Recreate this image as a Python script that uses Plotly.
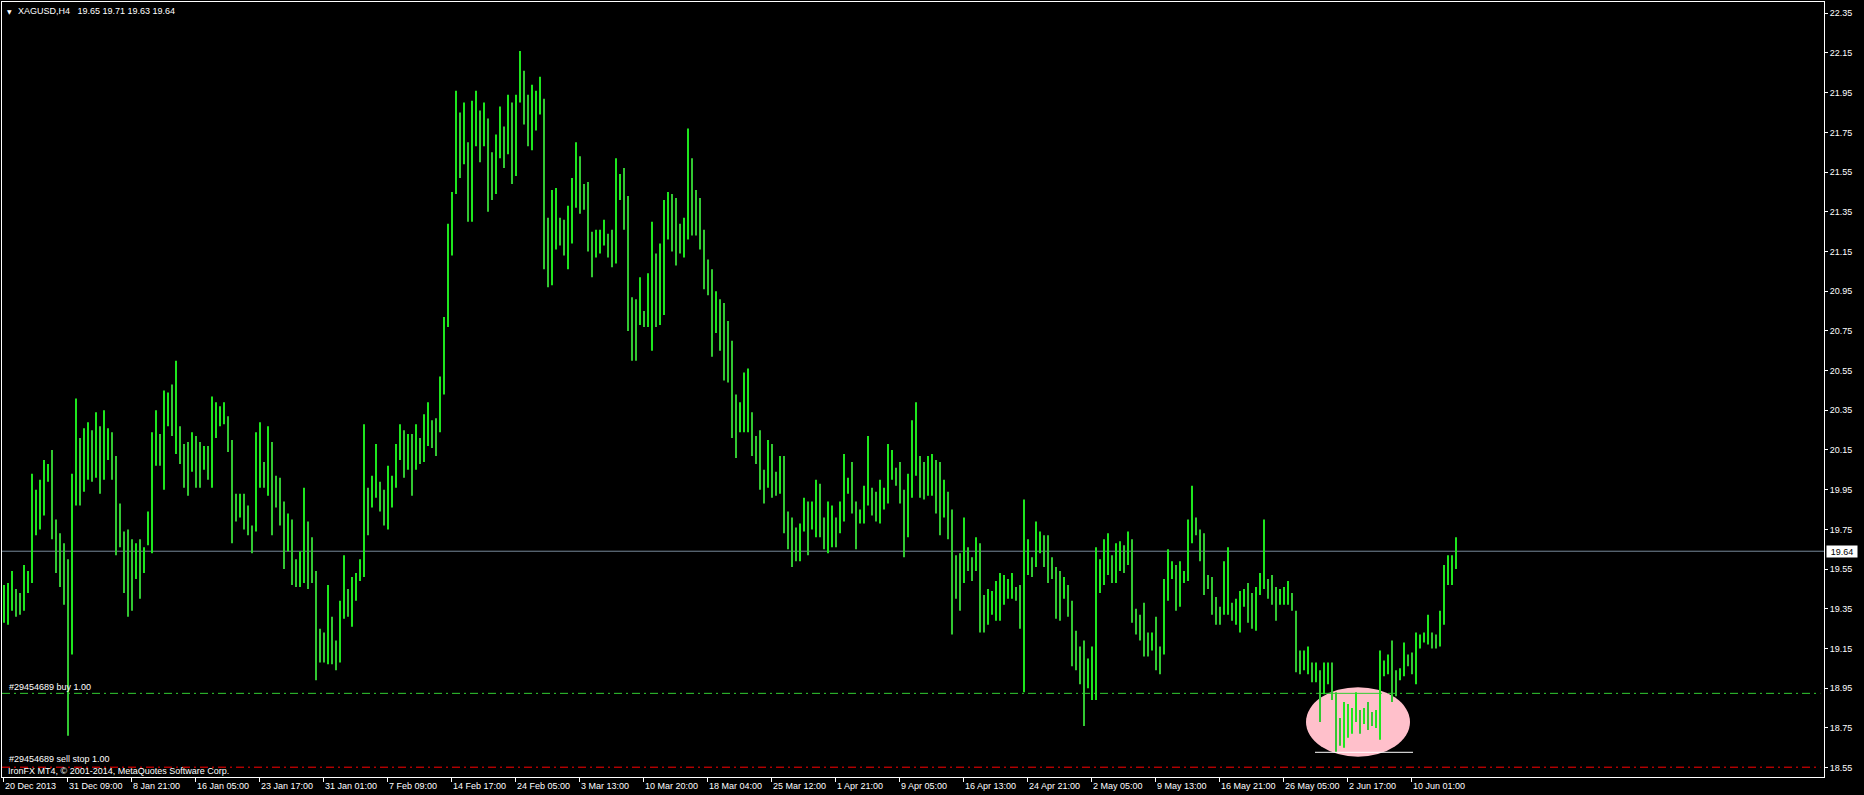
import plotly.graph_objects as go

# ---- data (XAGUSD H4, bars aggregated in pairs) ----
high = [
    19.47, 19.48, 19.54, 19.45, 19.43, 19.57, 19.54, 20.03, 19.95, 20.00,
    20.10, 20.08, 20.15, 19.80, 19.73, 19.68, 19.60, 20.03, 20.41, 20.21,
    20.26, 20.29, 20.25, 20.34, 20.27, 20.35, 20.26, 20.24, 20.12, 19.88,
    19.74, 19.75, 19.70, 19.68, 19.70, 19.66, 19.84, 20.24, 20.35, 20.23,
    20.45, 20.44, 20.48, 20.60, 20.27, 20.18, 20.19, 20.24, 20.22, 20.19,
    20.17, 20.17, 20.42, 20.39, 20.37, 20.39, 20.32, 20.20, 19.93, 19.93,
    19.93, 19.87, 19.77, 20.24, 20.29, 20.09, 20.27, 20.19, 20.02, 20.01,
    19.89, 19.83, 19.80, 19.60, 19.64, 19.96, 19.79, 19.71, 19.54, 19.25,
    19.23, 19.47, 19.31, 19.19, 19.39, 19.62, 19.45, 19.51, 19.53, 19.60,
    20.28, 19.96, 20.02, 20.18, 19.99, 19.95, 20.07, 20.02, 20.18, 20.28,
    20.25, 20.23, 20.23, 20.28, 20.21, 20.33, 20.39, 20.30, 20.31, 20.52,
    20.82, 21.29, 21.45, 21.96, 21.85, 21.90, 21.70, 21.91, 21.96, 21.86,
    21.90, 21.82, 21.65, 21.74, 21.88, 21.78, 21.94, 21.90, 21.94, 22.16,
    22.06, 21.94, 21.99, 21.96, 22.03, 21.92, 21.32, 21.46, 21.47, 21.32,
    21.31, 21.38, 21.52, 21.70, 21.63, 21.49, 21.50, 21.25, 21.26, 21.26,
    21.31, 21.24, 21.26, 21.62, 21.54, 21.57, 21.43, 20.92, 20.91, 21.02,
    20.85, 21.04, 21.30, 21.14, 21.19, 21.41, 21.45, 21.44, 21.42, 21.29,
    21.32, 21.77, 21.62, 21.46, 21.42, 21.26, 21.11, 21.06, 20.95, 20.91,
    20.89, 20.80, 20.70, 20.43, 20.39, 20.54, 20.56, 20.34, 20.22, 20.25,
    20.05, 20.20, 20.18, 20.04, 20.12, 20.12, 19.84, 19.81, 19.76, 19.78,
    19.91, 19.89, 19.89, 20.00, 19.98, 19.81, 19.89, 19.87, 19.81, 19.89,
    20.13, 20.01, 20.09, 19.89, 19.85, 19.97, 20.22, 19.96, 19.94, 20.00,
    19.96, 20.18, 20.15, 20.06, 20.09, 19.95, 20.03, 20.30, 20.39, 20.12,
    20.09, 20.12, 20.13, 20.10, 20.09, 20.00, 19.94, 19.85, 19.62, 19.63,
    19.81, 19.66, 19.61, 19.71, 19.68, 19.42, 19.45, 19.44, 19.49, 19.53,
    19.52, 19.50, 19.53, 19.46, 19.47, 19.90, 19.70, 19.61, 19.79, 19.74,
    19.72, 19.72, 19.61, 19.56, 19.54, 19.51, 19.47, 19.39, 19.24, 19.16,
    19.19, 19.10, 19.16, 19.66, 19.60, 19.70, 19.73, 19.62, 19.68, 19.69,
    19.67, 19.74, 19.70, 19.35, 19.32, 19.38, 19.23, 19.23, 19.31, 19.16,
    19.50, 19.65, 19.59, 19.57, 19.59, 19.54, 19.80, 19.97, 19.81, 19.75,
    19.73, 19.52, 19.51, 19.41, 19.36, 19.59, 19.66, 19.38, 19.40, 19.44,
    19.45, 19.48, 19.43, 19.46, 19.53, 19.80, 19.50, 19.52, 19.46, 19.45,
    19.46, 19.49, 19.43, 19.34, 19.14, 19.14, 19.16, 19.08, 19.08, 19.04,
    19.08, 19.08, 19.08, 18.93, 18.80, 18.88, 18.87, 18.85, 18.93, 18.84,
    18.85, 18.88, 18.83, 18.84, 19.14, 19.09, 19.12, 19.19, 19.04, 19.05,
    19.18, 19.12, 19.13, 19.23, 19.22, 19.23, 19.32, 19.23, 19.22, 19.34,
    19.57, 19.62, 19.62, 19.71,
]
low = [
    19.28, 19.27, 19.34, 19.31, 19.32, 19.34, 19.43, 19.48, 19.72, 19.75,
    19.82, 19.99, 19.70, 19.53, 19.46, 19.37, 18.71, 19.12, 19.87, 19.87,
    19.94, 20.00, 19.99, 20.01, 19.93, 20.00, 20.10, 20.00, 19.62, 19.66,
    19.43, 19.31, 19.34, 19.50, 19.40, 19.53, 19.67, 19.63, 20.07, 20.07,
    19.95, 20.27, 20.22, 20.13, 20.08, 19.96, 19.92, 20.04, 19.96, 19.96,
    20.05, 20.00, 19.96, 20.21, 20.27, 20.28, 20.14, 19.68, 19.79, 19.81,
    19.75, 19.72, 19.63, 19.74, 19.96, 19.96, 19.92, 19.72, 19.86, 19.77,
    19.55, 19.64, 19.47, 19.46, 19.46, 19.48, 19.45, 19.48, 18.99, 19.08,
    19.08, 19.07, 19.07, 19.04, 19.08, 19.30, 19.31, 19.26, 19.39, 19.49,
    19.51, 19.72, 19.86, 19.91, 19.84, 19.77, 19.75, 19.86, 19.96, 20.10,
    20.01, 20.05, 19.92, 20.05, 20.08, 20.09, 20.17, 20.16, 20.12, 20.24,
    20.43, 20.77, 21.13, 21.44, 21.52, 21.59, 21.30, 21.30, 21.68, 21.60,
    21.68, 21.35, 21.41, 21.44, 21.62, 21.57, 21.64, 21.49, 21.53, 21.90,
    21.79, 21.68, 21.66, 21.76, 21.84, 21.06, 20.97, 20.98, 21.16, 21.18,
    21.13, 21.06, 21.19, 21.37, 21.34, 21.36, 21.15, 21.02, 21.12, 21.14,
    21.18, 21.12, 21.07, 21.09, 21.41, 21.26, 20.75, 20.60, 20.60, 20.78,
    20.77, 20.77, 20.65, 20.77, 20.78, 20.83, 21.21, 21.15, 21.08, 21.14,
    21.12, 21.21, 21.23, 21.23, 21.16, 20.96, 20.93, 20.62, 20.74, 20.65,
    20.50, 20.49, 20.21, 20.11, 20.24, 20.24, 20.24, 20.12, 20.08, 19.95,
    19.88, 19.96, 19.91, 19.92, 19.93, 19.73, 19.65, 19.56, 19.59, 19.59,
    19.74, 19.62, 19.75, 19.71, 19.71, 19.65, 19.63, 19.66, 19.66, 19.73,
    19.79, 19.93, 19.83, 19.65, 19.78, 19.78, 19.87, 19.82, 19.79, 19.78,
    19.85, 19.88, 20.00, 19.97, 19.88, 19.61, 19.71, 19.91, 20.02, 19.91,
    19.90, 19.92, 19.92, 19.83, 19.72, 19.81, 19.70, 19.22, 19.40, 19.34,
    19.48, 19.54, 19.49, 19.54, 19.23, 19.23, 19.27, 19.32, 19.29, 19.29,
    19.37, 19.40, 19.40, 19.39, 19.25, 18.93, 19.52, 19.51, 19.56, 19.63,
    19.56, 19.48, 19.50, 19.30, 19.29, 19.40, 19.31, 19.06, 19.04, 18.97,
    18.76, 18.95, 18.89, 18.89, 19.43, 19.47, 19.52, 19.48, 19.48, 19.54,
    19.53, 19.57, 19.28, 19.22, 19.19, 19.11, 19.11, 19.14, 19.04, 19.02,
    19.12, 19.39, 19.50, 19.34, 19.36, 19.48, 19.49, 19.68, 19.72, 19.59,
    19.42, 19.45, 19.32, 19.27, 19.27, 19.32, 19.32, 19.29, 19.27, 19.23,
    19.36, 19.28, 19.25, 19.24, 19.42, 19.45, 19.40, 19.37, 19.29, 19.37,
    19.37, 19.37, 19.34, 19.03, 19.02, 19.04, 19.02, 18.98, 18.98, 18.78,
    18.92, 18.97, 18.89, 18.63, 18.66, 18.65, 18.70, 18.72, 18.78, 18.72,
    18.77, 18.74, 18.76, 18.75, 18.69, 19.01, 19.02, 18.88, 18.91, 18.99,
    19.01, 19.06, 19.02, 18.97, 19.15, 19.18, 19.17, 19.15, 19.15, 19.16,
    19.27, 19.47, 19.47, 19.55,
]

date_labels = [
    "20 Dec 2013", "31 Dec 09:00", "8 Jan 21:00", "16 Jan 05:00", "23 Jan 17:00",
    "31 Jan 01:00", "7 Feb 09:00", "14 Feb 17:00", "24 Feb 05:00", "3 Mar 13:00",
    "10 Mar 20:00", "18 Mar 04:00", "25 Mar 12:00", "1 Apr 21:00", "9 Apr 05:00",
    "16 Apr 13:00", "24 Apr 21:00", "2 May 05:00", "9 May 13:00", "16 May 21:00",
    "26 May 05:00", "2 Jun 17:00", "10 Jun 01:00",
]
price_ticks = [18.55, 18.75, 18.95, 19.15, 19.35, 19.55, 19.75, 19.95, 20.15,
               20.35, 20.55, 20.75, 20.95, 21.15, 21.35, 21.55, 21.75, 21.95,
               22.15, 22.35]

symbol = "XAGUSD,H4"
last_ohlc = ["19.65", "19.71", "19.63", "19.64"]
bid_price = 19.64
buy_price = 18.924
stop_price = 18.552
buy_label = "#29454689 buy 1.00"
stop_label = "#29454689 sell stop 1.00"
copyright_text = "IronFX MT4, \u00a9 2001-2014, MetaQuotes Software Corp."

# highlighted region (pink ellipse) in bar index / price terms
ellipse_bars = (325.5, 351.5)
ellipse_prices = (18.605, 18.955)
low_line_bars = (327.75, 352.25)
low_line_price = 18.627
seg_bars = (329.75, 344.5)

# ---- styling ----
FONT = "Liberation Sans, Arial, sans-serif"
UP = "#1EE61E"
DOWN = "#32C832"
BARS_PER_LABEL = 16

n = len(high)
idx = list(range(n))
colors = []
prev = None
for h, l in zip(high, low):
    mid = (h + l) / 2
    colors.append(UP if prev is None or mid >= prev else DOWN)
    prev = mid

fig = go.Figure()
fig.add_trace(go.Bar(
    x=idx, y=[h - l for h, l in zip(high, low)], base=low, width=0.5,
    marker=dict(color=colors, line=dict(width=0)), hoverinfo="skip",
))

tick_pos = [BARS_PER_LABEL * k - 0.125 for k in range(len(date_labels))]

shapes = [
    dict(type="line", xref="paper", yref="y", x0=0, x1=0.998, y0=buy_price, y1=buy_price,
         line=dict(color="#32CD32", width=1, dash="8px,4px,2px,4px"), layer="below"),
    dict(type="line", xref="paper", yref="y", x0=0, x1=0.998, y0=stop_price, y1=stop_price,
         line=dict(color="#FF0000", width=1, dash="8px,4px,2px,4px"), layer="below"),
    dict(type="line", xref="paper", yref="y", x0=0, x1=1, y0=bid_price, y1=bid_price,
         line=dict(color="#778899", width=1), layer="below"),
    dict(type="circle", xref="x", yref="y", x0=ellipse_bars[0], x1=ellipse_bars[1],
         y0=ellipse_prices[0], y1=ellipse_prices[1], fillcolor="#FFC0CB",
         line=dict(width=0), layer="below"),
    dict(type="line", xref="x", yref="y", x0=seg_bars[0], x1=seg_bars[1],
         y0=buy_price, y1=buy_price, line=dict(color="#32CD32", width=1), layer="below"),
    dict(type="line", xref="x", yref="y", x0=low_line_bars[0], x1=low_line_bars[1],
         y0=low_line_price, y1=low_line_price, line=dict(color="#FFFFFF", width=1), layer="below"),
]

ann = []
for pos, lab in zip(tick_pos, date_labels):
    ann.append(dict(x=pos, y=0, xref="x", yref="paper", xanchor="left", yanchor="top",
                    yshift=-3, xshift=0, text=lab, showarrow=False, borderpad=0,
                    font=dict(family=FONT, size=9, color="white")))
ann += [
    dict(x=0, y=1, xref="paper", yref="paper", xanchor="left", yanchor="top",
         xshift=4, yshift=-5, text="\u25bc", showarrow=False, borderpad=0,
         font=dict(family="DejaVu Sans", size=6, color="white")),
    dict(x=0, y=1, xref="paper", yref="paper", xanchor="left", yanchor="top",
         xshift=15, yshift=-3, showarrow=False, borderpad=0,
         text=symbol + "\u00a0\u00a0 " + " ".join(last_ohlc),
         font=dict(family=FONT, size=9, color="white")),
    dict(x=0, y=buy_price, xref="paper", yref="y", xanchor="left", yanchor="bottom",
         xshift=6, yshift=0, text=buy_label, showarrow=False, borderpad=0,
         font=dict(family=FONT, size=9, color="white")),
    dict(x=0, y=stop_price, xref="paper", yref="y", xanchor="left", yanchor="bottom",
         xshift=6, yshift=2, text=stop_label, showarrow=False, borderpad=0,
         font=dict(family=FONT, size=9, color="white")),
    dict(x=0, y=0, xref="paper", yref="paper", xanchor="left", yanchor="bottom",
         xshift=5, yshift=0, text=copyright_text, showarrow=False, borderpad=0,
         font=dict(family=FONT, size=9, color="white")),
    dict(x=1, y=bid_price, xref="paper", yref="y", xanchor="left", yanchor="middle",
         xshift=2, text=f"{bid_price:.2f}", showarrow=False, bgcolor="white",
         borderpad=0, width=30, height=11, align="center",
         font=dict(family=FONT, size=9, color="black")),
]

fig.update_layout(
    width=1864, height=795,
    margin=dict(l=2, r=40, t=2, b=18, pad=0),
    paper_bgcolor="black", plot_bgcolor="black",
    showlegend=False, barmode="overlay",
    shapes=shapes, annotations=ann,
    xaxis=dict(range=[-0.5, 455], showgrid=False, zeroline=False,
               showline=True, linecolor="white", linewidth=1, mirror=True,
               ticks="outside", ticklen=4, tickcolor="white", tickwidth=1,
               tickvals=tick_pos, showticklabels=False, fixedrange=True),
    yaxis=dict(range=[18.5026, 22.4069], side="right", showgrid=False, zeroline=False,
               showline=True, linecolor="white", linewidth=1, mirror=True,
               ticks="outside", ticklen=3, tickcolor="white", tickwidth=1,
               tickvals=price_ticks, ticktext=[f"{p:.2f}" for p in price_ticks],
               tickfont=dict(family=FONT, size=9, color="white"), fixedrange=True),
)

fig.write_html("out.html", config={"displayModeBar": False},
               post_script="document.body.style.margin='0';document.body.style.background='black';")
